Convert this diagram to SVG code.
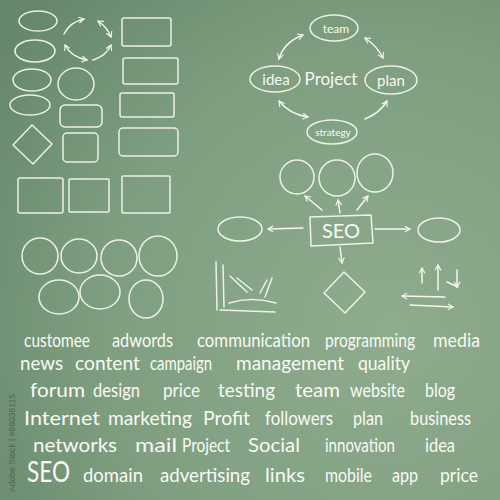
<svg xmlns="http://www.w3.org/2000/svg" width="500" height="500" viewBox="0 0 500 500">
<defs>
<radialGradient id="bg" cx="390" cy="330" r="480" gradientUnits="userSpaceOnUse">
<stop offset="0" stop-color="#8fac8d"/>
<stop offset="0.6" stop-color="#7f9e80"/>
<stop offset="1" stop-color="#66876a"/>
</radialGradient>
<marker id="ah" viewBox="0 0 10 10" refX="8" refY="5" markerWidth="7" markerHeight="7" orient="auto-start-reverse" markerUnits="userSpaceOnUse">
<path d="M1,1 L8,5 L1,9" fill="none" stroke="#f4f6ef" stroke-width="1.6" stroke-linecap="round" stroke-linejoin="round"/>
</marker>
<style>
.s{fill:none;stroke:#f4f6ef;stroke-width:1.5;stroke-linecap:round;stroke-linejoin:round;opacity:.93}
.c{fill:none;stroke:#f4f6ef;stroke-width:1.5;stroke-linecap:round}
.a{marker-end:url(#ah)}
.b{marker-start:url(#ah);marker-end:url(#ah)}
.t{font-family:Lato,"Open Sans","Liberation Sans",sans-serif;font-weight:400;fill:#f8faf4;font-size:19px}
.n{font-family:Lato,"Open Sans","Liberation Sans",sans-serif;font-weight:400;fill:#f8faf4;text-anchor:middle}
.w{font-family:"Liberation Sans",sans-serif;fill:#4f6652;font-size:9px}
</style>
</defs>
<rect width="500" height="500" fill="url(#bg)"/>

<!-- left shapes palette -->
<g id="shape-ellipse1"><ellipse class="s" cx="38" cy="21" rx="19" ry="10"/></g>
<g id="shape-ellipse2"><ellipse class="s" cx="35" cy="51" rx="20" ry="11"/></g>
<g id="shape-ellipse3"><ellipse class="s" cx="32" cy="80" rx="19" ry="11"/></g>
<g id="shape-ellipse4"><ellipse class="s" cx="30" cy="105" rx="20" ry="10"/></g>
<g id="shape-diamond1"><path class="s" d="M32,125 L52,144 L33,164 L13,145 Z"/></g>
<g id="shape-circle1"><ellipse class="s" cx="76" cy="84" rx="18" ry="16"/></g>
<g id="shape-rrect1"><rect class="s" x="60" y="105" width="42" height="22" rx="5"/></g>
<g id="shape-rrect2"><rect class="s" x="63" y="133" width="35" height="29" rx="4"/></g>
<g id="shape-rect1"><rect class="s" x="122" y="18" width="49" height="28" rx="2"/></g>
<g id="shape-rect2"><rect class="s" x="123" y="58" width="55" height="26" rx="2"/></g>
<g id="shape-rect3"><rect class="s" x="120" y="93" width="54" height="24" rx="2"/></g>
<g id="shape-rect4"><rect class="s" x="119" y="128" width="59" height="28" rx="4"/></g>
<g id="shape-rect5"><rect class="s" x="122" y="176" width="48" height="37" rx="1"/></g>
<g id="shape-rect6"><rect class="s" x="18" y="178" width="45" height="35" rx="2"/></g>
<g id="shape-rect7"><rect class="s" x="69" y="179" width="40" height="33" rx="1"/></g>

<g id="shape-circles">
<ellipse class="s" cx="40" cy="256" rx="18" ry="18"/>
<ellipse class="s" cx="79" cy="256" rx="18" ry="17"/>
<ellipse class="s" cx="119" cy="258" rx="18" ry="18"/>
<ellipse class="s" cx="158" cy="256" rx="19" ry="20"/>
<ellipse class="s" cx="59" cy="297" rx="20" ry="17"/>
<ellipse class="s" cx="100" cy="292" rx="20" ry="17"/>
<ellipse class="s" cx="146" cy="299" rx="17" ry="19"/>
</g>

<!-- project cycle -->
<g id="node-team"><ellipse class="s" cx="334" cy="28" rx="24" ry="13"/><text class="n" x="336" y="33" font-size="12">team</text></g>
<g id="node-idea"><ellipse class="s" cx="275" cy="79" rx="25" ry="13"/><text class="n" x="276" y="85" font-size="15">idea</text></g>
<g id="node-project"><text class="n" x="331" y="85" font-size="17">Project</text></g>
<g id="node-plan"><ellipse class="s" cx="391" cy="80" rx="26" ry="14"/><text class="n" x="391" y="86" font-size="15">plan</text></g>
<g id="node-strategy"><ellipse class="s" cx="332" cy="132" rx="25" ry="12"/><text class="n" x="333" y="136" font-size="10">strategy</text></g>

<!-- SEO map -->
<g id="node-circle-a"><ellipse class="s" cx="297" cy="177" rx="17" ry="17"/></g>
<g id="node-circle-b"><ellipse class="s" cx="337" cy="178" rx="18" ry="18"/></g>
<g id="node-circle-c"><ellipse class="s" cx="375" cy="173" rx="18" ry="19"/></g>
<g id="node-seo"><path class="s" d="M310,217 L371,215 L373,243 L311,246 Z"/><text class="n" x="341" y="238" font-size="20">SEO</text></g>
<g id="node-left-ellipse"><ellipse class="s" cx="240" cy="229" rx="22" ry="12"/></g>
<g id="node-right-ellipse"><ellipse class="s" cx="439" cy="230" rx="21" ry="12"/></g>
<g id="node-diamond"><path class="s" d="M344,272 L365,292 L345,313 L324,293 Z"/></g>
<g id="node-chart">
<path class="s" d="M216,262 L217,310 M223,265 L224,307 M220,310 L275,312 M229,303 Q252,296 276,303 M230,276 L247,292 M237,278 L252,290 M267,280 L260,293 M272,278 L265,297"/>
</g>
<g id="node-arrows-set">
<path class="c a" d="M422,283 L422,268"/>
<path class="c a" d="M438,290 L438,265"/>
<path class="c a" d="M457,270 L457,287"/>
<path class="c" d="M447,282 L458,287"/>
<path class="c a" d="M445,297 L402,296"/>
<path class="c a" d="M410,305 L453,307"/>
</g>

<g id="connectors">
<path class="c a" d="M64,34 Q70,22 84,19"/>
<path class="c b" d="M98,21 Q107,27 111,37"/>
<path class="c a" d="M93,60 Q106,56 111,45"/>
<path class="c b" d="M65,45 Q71,57 87,60"/>
<path class="c b" d="M279,59 Q284,42 303,35"/>
<path class="c b" d="M365,38 Q377,46 383,58"/>
<path class="c b" d="M279,101 Q289,114 308,117"/>
<path class="c a" d="M365,119 Q380,113 387,101"/>
<path class="c a" d="M322,210 L305,196"/>
<path class="c a" d="M340,213 L338,200"/>
<path class="c a" d="M357,210 L368,196"/>
<path class="c a" d="M303,228 L268,229"/>
<path class="c a" d="M375,229 L410,229"/>
<path class="c a" d="M340,247 L342,263"/>
</g>

<g id="words" class="t">
<text x="24" y="347" textLength="66" lengthAdjust="spacingAndGlyphs">customee</text>
<text x="112" y="347" textLength="61" lengthAdjust="spacingAndGlyphs">adwords</text>
<text x="197" y="347" textLength="113" lengthAdjust="spacingAndGlyphs">communication</text>
<text x="325" y="347" textLength="90" lengthAdjust="spacingAndGlyphs">programming</text>
<text x="433" y="347" textLength="47" lengthAdjust="spacingAndGlyphs">media</text>
<text x="20" y="370" textLength="43" lengthAdjust="spacingAndGlyphs">news</text>
<text x="75" y="370" textLength="65" lengthAdjust="spacingAndGlyphs">content</text>
<text x="150" y="370" textLength="62" lengthAdjust="spacingAndGlyphs">campaign</text>
<text x="236" y="370" textLength="108" lengthAdjust="spacingAndGlyphs">management</text>
<text x="358" y="370" textLength="52" lengthAdjust="spacingAndGlyphs">quality</text>
<text x="30" y="397" textLength="55" lengthAdjust="spacingAndGlyphs">forum</text>
<text x="93" y="397" textLength="47" lengthAdjust="spacingAndGlyphs">design</text>
<text x="163" y="397" textLength="37" lengthAdjust="spacingAndGlyphs">price</text>
<text x="218" y="397" textLength="57" lengthAdjust="spacingAndGlyphs">testing</text>
<text x="295" y="397" textLength="45" lengthAdjust="spacingAndGlyphs">team</text>
<text x="350" y="397" textLength="55" lengthAdjust="spacingAndGlyphs">website</text>
<text x="425" y="397" textLength="30" lengthAdjust="spacingAndGlyphs">blog</text>
<text x="24" y="425" textLength="76" lengthAdjust="spacingAndGlyphs">Internet</text>
<text x="108" y="425" textLength="84" lengthAdjust="spacingAndGlyphs">marketing</text>
<text x="203" y="425" textLength="47" lengthAdjust="spacingAndGlyphs">Profit</text>
<text x="265" y="425" textLength="68" lengthAdjust="spacingAndGlyphs">followers</text>
<text x="353" y="425" textLength="30" lengthAdjust="spacingAndGlyphs">plan</text>
<text x="410" y="425" textLength="61" lengthAdjust="spacingAndGlyphs">business</text>
<text x="33" y="452" textLength="84" lengthAdjust="spacingAndGlyphs">networks</text>
<text x="135" y="452" textLength="42" lengthAdjust="spacingAndGlyphs">mail</text>
<text x="182" y="452" textLength="48" lengthAdjust="spacingAndGlyphs">Project</text>
<text x="248" y="452" textLength="52" lengthAdjust="spacingAndGlyphs">Social</text>
<text x="325" y="452" textLength="70" lengthAdjust="spacingAndGlyphs">innovation</text>
<text x="425" y="452" textLength="30" lengthAdjust="spacingAndGlyphs">idea</text>
<text x="27" y="482" font-size="28" textLength="43" lengthAdjust="spacingAndGlyphs">SEO</text>
<text x="83" y="482" textLength="60" lengthAdjust="spacingAndGlyphs">domain</text>
<text x="160" y="482" textLength="90" lengthAdjust="spacingAndGlyphs">advertising</text>
<text x="265" y="482" textLength="40" lengthAdjust="spacingAndGlyphs">links</text>
<text x="325" y="482" textLength="47" lengthAdjust="spacingAndGlyphs">mobile</text>
<text x="392" y="482" textLength="26" lengthAdjust="spacingAndGlyphs">app</text>
<text x="440" y="482" textLength="38" lengthAdjust="spacingAndGlyphs">price</text>
</g>

<text class="w" transform="translate(15,492) rotate(-90)" textLength="98" lengthAdjust="spacingAndGlyphs">Adobe Stock | #66036115</text>
</svg>
